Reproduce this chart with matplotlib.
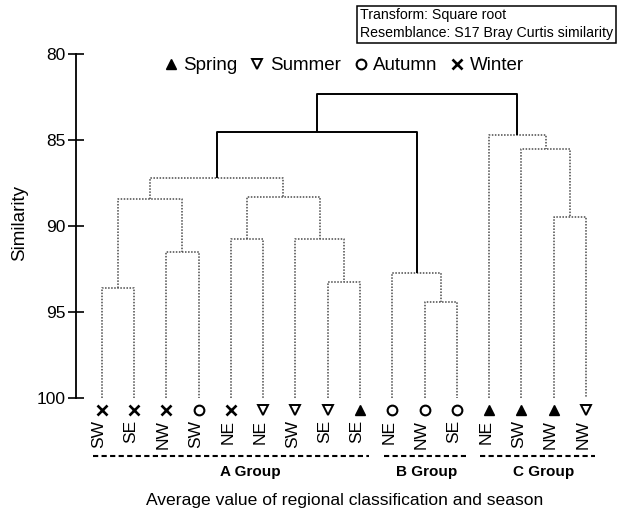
"""
Cluster dendrogram of regional / seasonal averages (Bray-Curtis similarity).
Renders out.png at 619x513.
"""

import matplotlib
matplotlib.use('Agg')
import matplotlib.pyplot as plt
from matplotlib.lines import Line2D

# ---- data -------------------------------------------------------------
LEAF_REGIONS = ['SW', 'SE', 'NW', 'SW', 'NE', 'NE', 'SW', 'SE', 'SE',
                'NE', 'NW', 'SE', 'NE', 'SW', 'NW', 'NW']
LEAF_SEASONS = ['Winter', 'Winter', 'Winter', 'Autumn', 'Winter', 'Summer',
                'Summer', 'Summer', 'Spring', 'Autumn', 'Autumn', 'Autumn',
                'Spring', 'Spring', 'Spring', 'Summer']

# merges in linkage order: cluster id = 16 + row index
MERGE_LEFT = [0, 2, 16, 4, 7, 6, 19, 18, 10, 9, 14, 13, 12, 23, 29]
MERGE_RIGHT = [1, 3, 17, 5, 8, 20, 21, 22, 11, 24, 15, 26, 27, 25, 28]
MERGE_SIM = [93.6, 91.5, 88.4, 90.75, 93.25, 90.75, 88.3, 87.2,
             94.4, 92.7, 89.45, 85.5, 84.7, 84.5, 82.3]
MERGE_SIGNIF = [False] * 13 + [True, True]

SEASONS = ['Spring', 'Summer', 'Autumn', 'Winter']
GROUP_NAMES = ['A Group', 'B Group', 'C Group']
GROUP_FIRST = [0, 9, 12]
GROUP_LAST = [8, 11, 15]

Y_TICKS = [80, 85, 90, 95, 100]

# ---- style ------------------------------------------------------------
FONT = ['Liberation Sans', 'DejaVu Sans']
DOT_COLOR = '#4a4a4a'
SEASON_STYLE = {
    'Spring': dict(marker='^', mfc='black', mec='black', ms=7.5),
    'Summer': dict(marker='v', mfc='white', mec='black', ms=7.5, mew=1.4),
    'Autumn': dict(marker='o', mfc='white', mec='black', ms=7, mew=1.5),
    'Winter': dict(marker='x', mfc='black', mec='black', ms=7, mew=1.9),
}
GROUP_LABEL_X = [4.6, 10.05, 13.7]

plt.rcParams.update({
    'font.family': FONT,
    'font.size': 11,
    'text.color': 'black',
})

W, H = 619, 513
fig = plt.figure(figsize=(W / 100, H / 100), dpi=100)
ax = fig.add_axes([76 / W, 1 - 398.3 / H, (W - 76) / W, (398.3 - 54.3) / H])

# ---- dendrogram -------------------------------------------------------
n = len(LEAF_REGIONS)
xpos = {i: float(i) for i in range(n)}
ypos = {i: 100.0 for i in range(n)}

for k, (a, b, s, sig) in enumerate(zip(MERGE_LEFT, MERGE_RIGHT, MERGE_SIM, MERGE_SIGNIF)):
    cid = n + k
    xa, xb = xpos[a], xpos[b]
    if sig:
        kw = dict(color='black', lw=1.4, ls='-', solid_capstyle='butt')
    else:
        kw = dict(color=DOT_COLOR, lw=1.1, ls=(0, (1, 1)))
    ax.plot([xa, xa, xb, xb], [ypos[a], s, s, ypos[b]], **kw)
    xpos[cid] = (xa + xb) / 2
    ypos[cid] = s

# leaf markers and labels
for i, (reg, sea) in enumerate(zip(LEAF_REGIONS, LEAF_SEASONS)):
    ax.plot(i, 100.68, ls='none', clip_on=False, zorder=5, **SEASON_STYLE[sea])
    ax.text(i - 0.1, 101.25, reg, rotation=90, ha='center', va='top',
            fontsize=12.5, clip_on=False)

# group brackets
for name, first, last, lx in zip(GROUP_NAMES, GROUP_FIRST, GROUP_LAST, GROUP_LABEL_X):
    ax.plot([first - 0.27, last + 0.27], [103.36, 103.36], color='black',
            lw=1.5, ls=(0, (2.5, 1.6)), clip_on=False)
    ax.text(lx, 104.3, name, ha='center', va='center', fontsize=11,
            fontweight='bold', clip_on=False)

# ---- axes -------------------------------------------------------------
ax.set_xlim(-0.796, 16.02)
ax.set_ylim(100, 80)
ax.set_yticks(Y_TICKS)
ax.set_xticks([])
for side in ['top', 'right', 'bottom']:
    ax.spines[side].set_visible(False)
ax.spines['left'].set_linewidth(1.3)
ax.tick_params(axis='y', direction='inout', length=11, width=1.2,
               labelsize=12.5, pad=2)
ax.set_facecolor('none')
ax.set_ylabel('Similarity', fontsize=13.5)
ax.yaxis.set_label_coords(-0.088, 0.51)

fig.text(344.7 / W, 1 - 500 / H, 'Average value of regional classification and season',
         ha='center', va='center', fontsize=12.6)

# legend
handles = [Line2D([], [], ls='none', **SEASON_STYLE[s]) for s in SEASONS]
fig.legend(handles, SEASONS, loc='center', ncol=4, frameon=False,
           bbox_to_anchor=(344 / W, 1 - 65.7 / H), fontsize=13.5,
           handlelength=0.7, handletextpad=0.3, columnspacing=0.72,
           borderaxespad=0, borderpad=0)

# info box
fig.text(360 / W, 1 - 8.5 / H,
         'Transform: Square root\nResemblance: S17 Bray Curtis similarity',
         ha='left', va='top', fontsize=10.2, linespacing=1.3,
         bbox=dict(boxstyle='square,pad=0.2', fc='white', ec='black', lw=1.1))

fig.savefig('out.png', dpi=100, facecolor='white')
plt.close(fig)
